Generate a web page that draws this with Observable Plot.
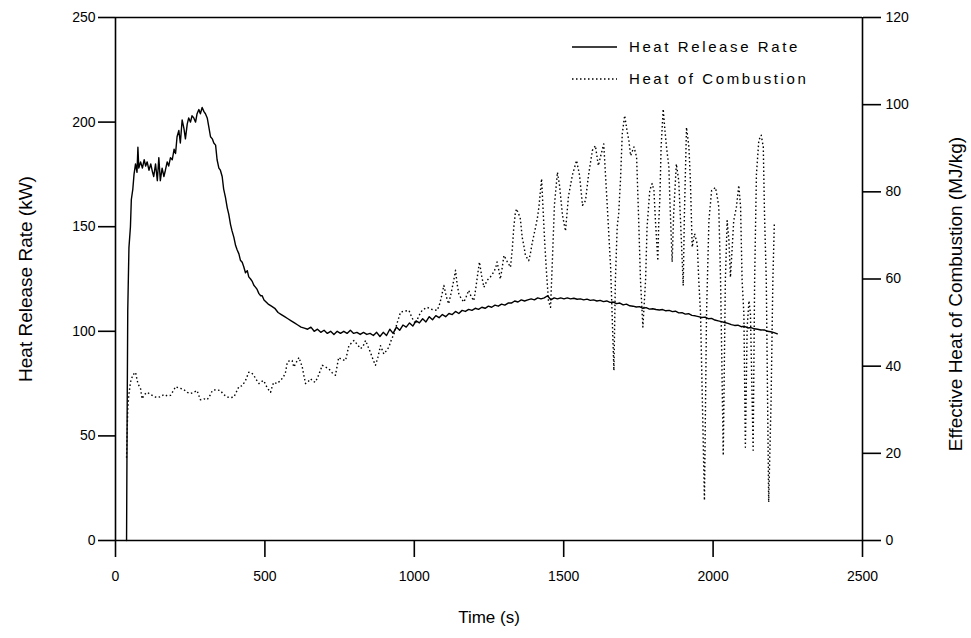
<!DOCTYPE html>
<html><head><meta charset="utf-8">
<script src="https://cdn.jsdelivr.net/npm/d3@7"></script>
<script src="https://cdn.jsdelivr.net/npm/@observablehq/plot@0.6"></script>
<style>
body{margin:0;background:#fff}
svg{font-family:Arial,"Liberation Sans",sans-serif}
</style>
</head><body><div id="chart"></div>
<script>
// Heat release rate (kW) vs time (s)
const hrrTime = [
  37,39,41,45,50,53,58,62,67,72,
  75,78,84,90,96,101,106,112,118,124,
  128,134,140,145,150,156,162,167,173,178,
  184,190,196,201,206,212,217,223,229,234,
  240,245,251,256,262,268,273,279,284,290,
  296,301,307,312,318,324,329,335,340,346,
  351,357,362,368,374,379,385,390,396,402,
  407,413,418,424,429,435,441,446,452,457,
  463,469,474,480,486,491,497,
  511,522,533,544,555,566,577,588,599,610,
  621,632,643,654,665,676,687,698,709,720,
  731,742,753,764,775,786,797,808,819,830,
  841,852,863,874,885,896,907,918,929,940,
  951,962,973,984,995,1006,1017,1028,1039,1050,
  1061,1072,1083,1094,1105,1116,1127,1138,1149,1160,
  1171,1182,1193,1204,1215,1226,1237,1248,1259,1270,
  1281,1292,1303,1314,1325,1336,1347,1358,1369,1380,
  1391,1402,1413,1424,1435,1446,1457,1468,1479,1490,
  1501,1512,1523,1534,1545,1556,1567,1578,1589,1600,
  1611,1622,1633,1644,1655,1666,1677,1688,1699,1710,
  1721,1732,1743,1754,1765,1776,1787,1798,1809,1820,
  1831,1842,1853,1864,1874,1885,1896,1907,1918,1929,
  1940,1951,1962,1973,1984,1995,2006,2017,2028,2039,
  2050,2061,2072,2083,2094,2105,2116,2127,2138,2149,
  2160,2171,2182,2193,2204,2215
];
const hrrValue = [
  0,60,110,140,150,163,168,175,180,176,
  188,178,181,178,182,179,181,177,180,176,
  174,180,172,183,172,178,174,177,181,179,
  183,182,187,185,193,196,190,201,197,192,
  199,202,200,203,202,200,204,206,204,207,
  205,204,202,198,193,192,190,189,182,178,
  177,174,168,164,159,156,151,148,145,141,
  139,137,134,133,131,128,129,126,125,124,
  122,121,120,118,117,117,115,
  113,112,111,109,108,107,106,105,104,103,
  102,101.5,101,102,100,101,99.5,100.5,99,100,
  98.5,100,99,100,99,100.5,99,99.5,98.5,99.5,
  98.5,99,98,99.5,97.5,99.5,98,101,99,102,
  100.5,103,102,104,102.5,105,104,106,104.5,107,
  105.5,107.5,106.5,108,107,108.5,108,109.5,108.5,110,
  109.5,110.5,110,111,110.5,111.5,111,112,111.5,112.5,
  112,113,112.5,113.5,113.5,114.5,114,115,114.5,115,
  115.5,115,116,115.5,116,117,115,116,115.5,116,
  115.5,116,115.5,115.8,115.3,115.5,115,115.4,114.8,115,
  114.5,114.8,114.2,114.5,113.8,114,113.2,113.5,112.6,113,
  112.2,112,111.6,111.8,111,111.3,110.6,110.8,110.4,110.2,
  110.4,109.8,110,109.4,109.6,108.8,108.9,108.2,108.4,107.6,
  107.4,107,106.6,106.8,106,106.2,105.4,105,104.6,104.2,
  103.8,103.2,102.8,102.9,102.2,102.4,101.6,101.8,101.2,101,
  100.6,100.7,100,99.8,99.4,98.8
];
// Effective heat of combustion (MJ/kg) vs time (s)
const hocTime = [
  37,39,41,44,50,58,67,75,84,89,
  97,106,118,130,140,151,162,173,184,195,
  201,212,223,229,240,251,262,273,284,296,
  307,318,324,335,351,362,374,385,396,404,
  413,424,435,446,455,463,470,480,490,496,
  508,519,525,530,541,552,562,569,575,583,
  591,597,606,614,625,630,636,645,653,661,
  669,680,692,703,714,725,736,747,758,770,
  781,798,809,820,828,837,845,853,862,870,
  878,887,898,906,915,923,932,943,954,965,
  982,993,1004,1015,1026,1035,1043,1060,1077,1086,
  1093,1099,1107,1115,1124,1132,1138,1143,1149,1157,
  1166,1174,1182,1190,1199,1205,1210,1214,1218,1226,
  1233,1239,1244,1255,1266,1272,1277,1283,1288,1294,
  1300,1311,1322,1328,1333,1338,1342,1349,1355,1361,
  1367,1372,1383,1389,1395,1400,1406,1412,1417,1426,
  1436,1442,1449,1456,1462,1469,1479,1486,1496,1506,
  1516,1529,1543,1553,1563,1573,1583,1596,1606,1616,
  1623,1634,1646,1657,1662,1668,1673,1679,1684,1690,
  1696,1704,1712,1718,1724,1735,1744,1751,1757,1765,
  1774,1779,1788,1796,1802,1807,1815,1818,1822,1826,
  1833,1838,1844,1852,1855,1863,1868,1877,1885,1891,
  1900,1904,1911,1919,1924,1930,1938,1947,1952,1958,
  1971,1978,1986,1995,2008,2014,2019,2025,2034,2041,
  2047,2053,2058,2064,2069,2078,2086,2092,2097,2103,
  2108,2114,2120,2125,2134,2139,2145,2153,2161,2168,
  2172,2178,2186,2194,2200,2205
];
const hocValue = [
  19,25,30,33,36.3,38,38.6,36,34.8,32.5,
  33.5,34,33.5,33,32.8,33,33.5,33.2,33.3,34.5,
  35.3,35,34.8,34.6,34,33.7,34,34.4,32.3,32.5,
  32.3,33.5,34.4,34.6,34.4,33.5,32.9,32.8,32.9,34,
  35.3,35.5,36.7,38.6,38.5,37.9,37,36,36.5,36.7,
  35,34,35.5,36.3,36,36.7,37.5,38.6,40.9,41.3,
  41.3,39.8,41,42,39.8,38,36,36.5,37.1,36.5,
  36.3,38,40.2,39.8,39.4,38.5,37.9,42,41.5,41.3,
  44.7,45.9,45,44,44.5,45.9,44.5,43.2,41.5,40.2,
  42,44.7,42.8,43.5,44.4,46,47.4,50,52.4,52.6,
  52.8,51,49.7,51.5,52.8,53.2,53.5,53,52.8,54.5,
  56.6,58.5,56,54.3,57,59.7,62,59,56.6,55.5,
  54.7,56,57.4,56,55,57.5,60,62,63.9,60.5,
  58.1,59,59.7,60.5,61.6,62.5,63.9,62,60,62.5,
  65.4,64,62.7,66.9,71.9,75,76.1,75,73.8,69.6,
  67.5,65.4,64.2,66,68.4,70,71.9,74,76.5,83,
  69,62,55,53.5,64,77,84.5,81.5,74.6,71,
  79,83.8,87.2,83.8,76.9,78,83.8,89.5,90.6,86,
  88,91,76.5,62.7,52,39,59.7,71.9,75,82.6,
  93.3,97.5,94,91.8,88.3,90.3,88,73.4,59.7,49,
  59.7,71.9,80.3,81.9,80.3,73.4,64.2,72.7,78.8,90.3,
  99,94.8,90.3,85.7,78.8,63.9,75,86.4,82.6,73.4,
  58.5,75,94.8,90.3,82.6,67.3,70.4,68,59.7,52,
  9.2,52,73.4,80.3,81,78.8,76.5,59.7,19.5,59.7,
  73.4,68.8,60.4,67.3,73.4,76.5,81.5,76.5,59.7,52,
  21.4,49,55,52,20.7,59.7,84,91.8,93,90.3,
  75,59.7,8.8,32,59.7,73
];
const xTicks = [0, 500, 1000, 1500, 2000, 2500];
const leftTicks = [0, 50, 100, 150, 200, 250];
const rightTicks = [0, 20, 40, 60, 80, 100, 120];
const seriesNames = ["Heat Release Rate", "Heat of Combustion"];
const xTitle = "Time (s)";
const leftTitle = "Heat Release Rate (kW)";
const rightTitle = "Effective Heat of Combustion (MJ/kg)";

const leftMax = 250, rightMax = 120;
const k = leftMax / rightMax;
const hrr = hrrTime.map((t, i) => ({t, v: hrrValue[i]}));
const hoc = hocTime.map((t, i) => ({t, v: hocValue[i] * k}));

const plot = Plot.plot({
  width: 971,
  height: 638,
  marginLeft: 115,
  marginRight: 109,
  marginTop: 17,
  marginBottom: 98,
  style: {fontFamily: "Arial, 'Liberation Sans', sans-serif", fontSize: "14px", color: "#000", background: "#fff"},
  x: {domain: [0, 2500], label: null},
  y: {domain: [0, leftMax], label: null},
  marks: [
    Plot.line(hoc, {x: "t", y: "v", stroke: "#000", strokeWidth: 1.4, strokeDasharray: "1.5,2.5", strokeLinecap: "butt"}),
    Plot.line(hrr, {x: "t", y: "v", stroke: "#000", strokeWidth: 1.4}),
    Plot.ruleY([leftMax], {stroke: "#000", strokeWidth: 1.6}),
    Plot.ruleY([0], {stroke: "#000", strokeWidth: 1.6}),
    Plot.ruleX([0], {stroke: "#000", strokeWidth: 1.6}),
    Plot.ruleX([2500], {stroke: "#000", strokeWidth: 1.6}),
    Plot.axisX({ticks: xTicks, tickSize: 17, tickPadding: 14, tickFormat: d => String(d), strokeWidth: 1.6, label: null}),
    Plot.axisY({anchor: "left", ticks: leftTicks, tickSize: 17, tickPadding: 3, tickFormat: d => String(d), strokeWidth: 1.6, label: null}),
    Plot.axisY({anchor: "right", ticks: rightTicks.map(v => v * k), tickSize: 18, tickPadding: 5, tickFormat: d => String(Math.round(d / k)), strokeWidth: 1.6, label: null}),
    Plot.text([xTitle], {frameAnchor: "bottom", dy: 82, fontSize: 17, textAnchor: "middle"}),
    Plot.text([leftTitle], {frameAnchor: "left", dx: -90, rotate: -90, fontSize: 19, textAnchor: "middle"}),
    Plot.text([rightTitle], {frameAnchor: "right", dx: 93, dy: 15, rotate: -90, fontSize: 19, textAnchor: "middle"})
  ]
});
document.getElementById("chart").appendChild(plot);

// Legend
const svg = d3.select(plot);
const lg = svg.append("g").attr("font-size", 15).attr("letter-spacing", "2.6px").attr("text-anchor", "start");
const rows = [{name: seriesNames[0], dash: null, y: 47}, {name: seriesNames[1], dash: "1.5,2.5", y: 79}];
rows.forEach(r => {
  lg.append("line").attr("x1", 572).attr("x2", 617).attr("y1", r.y).attr("y2", r.y)
    .attr("stroke", "#000").attr("stroke-width", 1.4).attr("stroke-dasharray", r.dash);
  lg.append("text").attr("x", 629).attr("y", r.y).attr("dy", "0.35em").attr("text-anchor", "start").attr("fill", "#000").text(r.name);
});
</script>
</body></html>
